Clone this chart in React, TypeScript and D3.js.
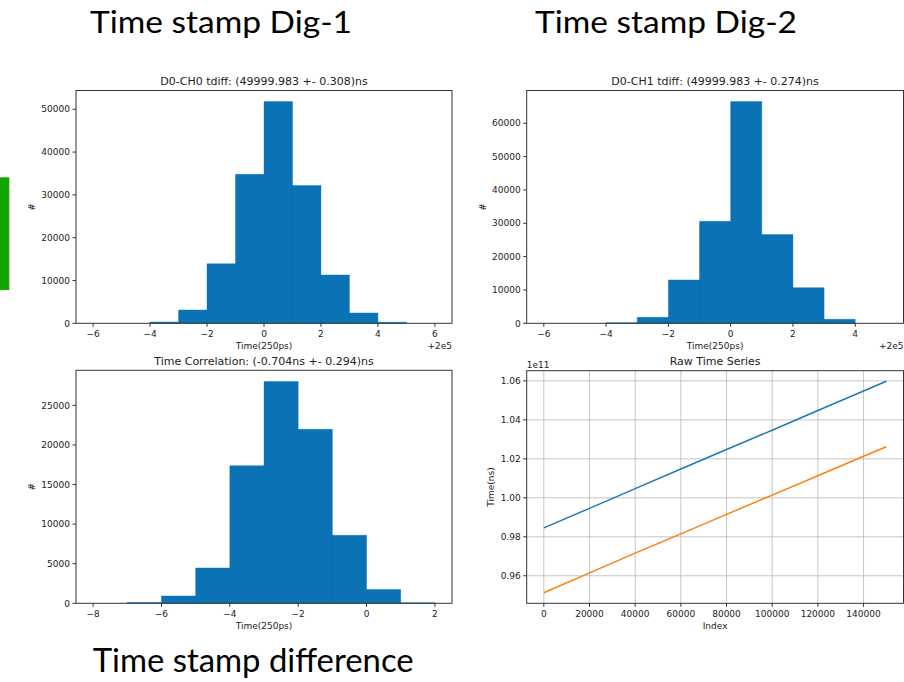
import React from "react";
import * as d3 from "d3";

const W = 904;
const H = 682;

// histogram bin edges (unit bins) and counts
const ch0Edges = [-6, -5, -4, -3, -2, -1, 0, 1, 2, 3, 4, 5, 6];
const ch0Counts = [0, 0, 300, 3100, 13900, 34800, 51800, 32200, 11300, 2400, 250, 0];

const ch1Edges = [-6, -5, -4, -3, -2, -1, 0, 1, 2, 3, 4, 5];
const ch1Counts = [0, 0, 200, 1800, 13000, 30600, 66500, 26600, 10700, 1200, 0];

const corrEdges = [-8, -7, -6, -5, -4, -3, -2, -1, 0, 1, 2];
const corrCounts = [0, 100, 930, 4460, 17380, 28030, 21970, 8590, 1730, 80];

// raw time series (units of 1e11 ns)
const rawIndex = [0, 20000, 40000, 60000, 80000, 100000, 120000, 140000, 150000];
const rawDig1 = [0.9846, 0.9946, 1.0047, 1.0148, 1.0248, 1.0347, 1.0448, 1.0548, 1.0598];
const rawDig2 = [0.9513, 0.9615, 0.9716, 0.9815, 0.9915, 1.0014, 1.0113, 1.0213, 1.0262];

const ch0XTicks = [-6, -4, -2, 0, 2, 4, 6];
const ch1XTicks = [-6, -4, -2, 0, 2, 4];
const corrXTicks = [-8, -6, -4, -2, 0, 2];
const rawXTicks = [0, 20000, 40000, 60000, 80000, 100000, 120000, 140000];
const rawYTicks = [0.96, 0.98, 1.0, 1.02, 1.04, 1.06];

const BAR = "#0b72b5";
const MPL = "DejaVu Sans, sans-serif";
const SLIDE = "Lato, Open Sans, sans-serif";

type Box = { left: number; right: number; top: number; bottom: number };

function withMargin(lo: number, hi: number, m = 0.05): [number, number] {
  const pad = (hi - lo) * m;
  return [lo - pad, hi + pad];
}

function Axes(props: {
  box: Box;
  x: d3.ScaleLinear<number, number>;
  y: d3.ScaleLinear<number, number>;
  xTicks: number[];
  yTicks: number[];
  yFmt: (v: number) => string;
  title: string;
  xLabel: string;
  yLabel: string;
  yLabelDx: number;
  offsetText?: string;
  exponentText?: string;
  grid?: boolean;
  children?: React.ReactNode;
}) {
  const { box, x, y } = props;
  const xFmt = d3.format("d");
  const midX = (box.left + box.right) / 2;
  const midY = (box.top + box.bottom) / 2;
  return (
    <g fontFamily={MPL} fill="#222">
      {props.grid && (
        <g stroke="#b8b8b8" strokeWidth={0.8}>
          {props.xTicks.map((t) => (
            <line key={"gx" + t} x1={x(t)} x2={x(t)} y1={box.top} y2={box.bottom} />
          ))}
          {props.yTicks.map((t) => (
            <line key={"gy" + t} x1={box.left} x2={box.right} y1={y(t)} y2={y(t)} />
          ))}
        </g>
      )}
      <g>{props.children}</g>
      <rect
        x={box.left}
        y={box.top}
        width={box.right - box.left}
        height={box.bottom - box.top}
        fill="none"
        stroke="#333"
        strokeWidth={1}
      />
      {props.xTicks.map((t) => (
        <g key={"xt" + t}>
          <line x1={x(t)} x2={x(t)} y1={box.bottom} y2={box.bottom + 3.5} stroke="#333" />
          <text x={x(t)} y={box.bottom + 14} fontSize={9} textAnchor="middle">
            {xFmt(t)}
          </text>
        </g>
      ))}
      {props.yTicks.map((t) => (
        <g key={"yt" + t}>
          <line x1={box.left - 3.5} x2={box.left} y1={y(t)} y2={y(t)} stroke="#333" />
          <text x={box.left - 6} y={y(t) + 3.2} fontSize={9} textAnchor="end">
            {props.yFmt(t)}
          </text>
        </g>
      ))}
      <text x={midX} y={box.top - 5.5} fontSize={11} textAnchor="middle">
        {props.title}
      </text>
      <text x={midX} y={box.bottom + 26} fontSize={9} textAnchor="middle">
        {props.xLabel}
      </text>
      {props.offsetText && (
        <text x={box.right} y={box.bottom + 26} fontSize={9} textAnchor="end">
          {props.offsetText}
        </text>
      )}
      {props.exponentText && (
        <text x={box.left} y={box.top - 2.5} fontSize={9}>
          {props.exponentText}
        </text>
      )}
      <text
        transform={`translate(${box.left - props.yLabelDx},${midY}) rotate(-90)`}
        fontSize={9}
        textAnchor="middle"
        dy="0.35em"
      >
        {props.yLabel}
      </text>
    </g>
  );
}

function HistPanel(props: {
  box: Box;
  edges: number[];
  counts: number[];
  xTicks: number[];
  yStep: number;
  title: string;
  offsetText?: string;
}) {
  const { box, edges, counts } = props;
  const x = d3
    .scaleLinear()
    .domain(withMargin(edges[0], edges[edges.length - 1]))
    .range([box.left, box.right]);
  const maxC = d3.max(counts) as number;
  const y = d3
    .scaleLinear()
    .domain([0, maxC * 1.05])
    .range([box.bottom, box.top]);
  const yTicks = d3.range(0, maxC * 1.05, props.yStep);

  // one outline path for all bars so no seams show between them
  const p = d3.path();
  counts.forEach((c, i) => {
    if (c <= 0) return;
    p.rect(x(edges[i]), y(c), x(edges[i + 1]) - x(edges[i]), y(0) - y(c));
  });

  return (
    <Axes
      box={box}
      x={x}
      y={y}
      xTicks={props.xTicks}
      yTicks={yTicks}
      yFmt={d3.format("d")}
      title={props.title}
      xLabel="Time(250ps)"
      yLabel="#"
      yLabelDx={44}
      offsetText={props.offsetText}
    >
      <path d={p.toString()} fill={BAR} fillRule="nonzero" stroke={BAR} strokeWidth={0.4} />
    </Axes>
  );
}

function RawPanel({ box }: { box: Box }) {
  const x = d3
    .scaleLinear()
    .domain(withMargin(0, d3.max(rawIndex) as number))
    .range([box.left, box.right]);
  const all = rawDig1.concat(rawDig2);
  const y = d3
    .scaleLinear()
    .domain(withMargin(d3.min(all) as number, d3.max(all) as number))
    .range([box.bottom, box.top]);
  const line = d3
    .line<number>()
    .x((_, i) => x(rawIndex[i]))
    .y((d) => y(d));
  return (
    <Axes
      box={box}
      x={x}
      y={y}
      xTicks={rawXTicks}
      yTicks={rawYTicks}
      yFmt={d3.format(".2f")}
      title="Raw Time Series"
      xLabel="Index"
      yLabel="Time(ns)"
      yLabelDx={36}
      exponentText="1e11"
      grid
    >
      <path d={line(rawDig1) || ""} fill="none" stroke="#1f77b4" strokeWidth={1.5} />
      <path d={line(rawDig2) || ""} fill="none" stroke="#ff7f0e" strokeWidth={1.5} />
    </Axes>
  );
}

export default function App() {
  const leftBox = { left: 76, right: 452 };
  const rightBox = { left: 526.7, right: 903.5 };
  return (
    <svg
      width={W}
      height={H}
      style={{ position: "absolute", left: 0, top: 0, background: "#fff" }}
    >
      <rect x={0} y={0} width={W} height={H} fill="#fff" />
      <rect x={0} y={177.3} width={9.3} height={112.7} fill="#13a600" />

      <text x={90} y={32.5} fontFamily={SLIDE} fontSize={31} textLength={262} lengthAdjust="spacingAndGlyphs">
        Time stamp Dig-1
      </text>
      <text x={535} y={32.5} fontFamily={SLIDE} fontSize={31} textLength={262} lengthAdjust="spacingAndGlyphs">
        Time stamp Dig-2
      </text>
      <text x={92.7} y={672.3} fontFamily={SLIDE} fontSize={33} textLength={321} lengthAdjust="spacingAndGlyphs">
        Time stamp difference
      </text>

      <HistPanel
        box={{ ...leftBox, top: 90.5, bottom: 323.3 }}
        edges={ch0Edges}
        counts={ch0Counts}
        xTicks={ch0XTicks}
        yStep={10000}
        title="D0-CH0 tdiff: (49999.983 +- 0.308)ns"
        offsetText="+2e5"
      />
      <HistPanel
        box={{ ...rightBox, top: 90.5, bottom: 323.3 }}
        edges={ch1Edges}
        counts={ch1Counts}
        xTicks={ch1XTicks}
        yStep={10000}
        title="D0-CH1 tdiff: (49999.983 +- 0.274)ns"
        offsetText="+2e5"
      />
      <HistPanel
        box={{ ...leftBox, top: 370.3, bottom: 603.3 }}
        edges={corrEdges}
        counts={corrCounts}
        xTicks={corrXTicks}
        yStep={5000}
        title="Time Correlation: (-0.704ns +- 0.294)ns"
      />
      <RawPanel box={{ ...rightBox, top: 370.7, bottom: 603.3 }} />
    </svg>
  );
}
